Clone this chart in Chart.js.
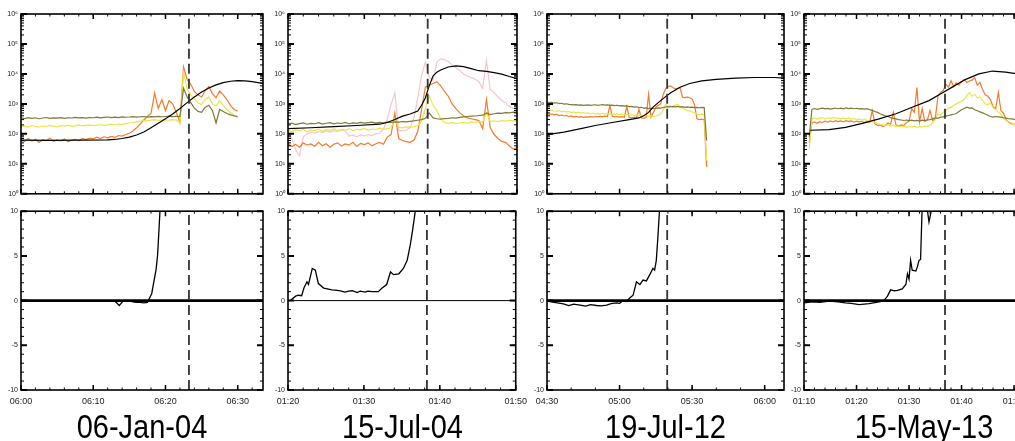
<!DOCTYPE html>
<html>
<head>
<meta charset="utf-8">
<script src="https://cdn.jsdelivr.net/npm/chart.js@4.4.0/dist/chart.umd.min.js"></script>
<style>
  body { margin: 0; width: 1015px; height: 441px; overflow: hidden; background: #fff; position: relative;
         font-family: "Liberation Sans", Helvetica, Arial, sans-serif; }
  canvas { position: absolute; }
  .date { position: absolute; top: 415px; width: 220px; text-align: center; font-size: 29px; line-height: 29px;
          color: #000; transform: scaleY(1.15); transform-origin: 50% 100%; white-space: nowrap; }
</style>
</head>
<body>
<script>
// ---- data (times in minutes from the start of each panel) ----
const dates = ['06-Jan-04', '15-Jul-04', '19-Jul-12', '15-May-13'];
const startMinutes = [360, 80, 270, 70];       // 06:00, 01:20, 04:30, 01:10
const flareTimes = [23.25, 18.3, 49.7, 26.85];   // dashed line

// 06-Jan-04 (0.5 min cadence from 06:00)
const jan04Orange = [62,55,70,58,66,52,64,60,72,56, 63,58,68,54,62,66,59,70,64,72, 68,78,70,80,74,82,76,88,84,95,
  105,125,160,210,290,380,480,2300,700,1400, 600,1300,1000,520,240,17000,6500,4500,2600,2000,
  1700,2800,3800,2200,1600,2700,2000,1400,900,650, 580];
const jan04Yellow = [175,185,168,190,178,170,186,175,192,180, 172,188,182,194,178,186,198,184,192,200,
  188,196,205,192,200,210,198,215,205,220, 230,240,250,265,275,270,285,300,280,290,
  295,285,300,290,230,11000,3200,2000,1500,1100, 950,1400,1700,1000,850,1300,900,650,520,420, 340];
const jan04Olive = [340,325,350,330,345,320,338,352,330,342, 335,350,328,345,338,355,340,348,335,352,
  345,360,342,355,365,350,362,348,370,358, 365,375,360,372,380,365,378,370,385,372,
  380,390,375,385,380,3300,1700,1100,720,560, 520,780,900,600,230,650,560,480,430,400, 380];
const jan04BlackT = [0,4,8,12,13,14,15,16,17,18,19,20,21,22,23,24,25,26,27,28,29,30,31,32,33,34];
const jan04BlackV = [62,61,62,63,65,70,78,92,115,160,225,320,460,700,1100,1700,2500,3400,4300,5100,5700,6000,5900,5500,5000,4600];
const jan04LowT = [12,13,13.6,14.2,15,15.5,16,16.5,17,17.5,17.8,18.1,18.3,18.5,18.7,18.9,19.0,19.25,19.6];
const jan04LowV = [0,-0.05,-0.55,0,0,-0.15,-0.2,-0.2,-0.25,-0.2,0.3,0.8,1.7,2.6,3.5,5,6.4,10.2,15];

// 15-Jul-04 (0.5 min cadence from 01:20)
const jul04Orange = [48,38,44,36,50,42,46,38,52,40, 47,36,45,50,39,46,42,52,38,48, 44,50,40,47,52,45,78,95,500,70,
  60,55,52,62,120,650,3700,4200,4800,5500, 4000,2600,1800,1000,700,500,400,340,320,300,
  280,150,1400,160,95,70,56,52,40,31, 34];
const jul04Yellow = [130,120,138,125,142,118,135,128,145,122, 138,130,148,126,140,134,150,128,142,136,
  152,132,145,140,155,142,150,160,300,165, 158,170,165,175,190,260,700,1850,900,600,
  320,240,225,238,220,235,242,228,250,240, 255,248,500,262,270,258,275,268,285,272, 280];
const jul04Olive = [215,228,205,220,232,210,225,218,235,212, 226,238,215,230,222,240,218,232,225,242,
  228,236,245,230,240,232,248,240,250,245, 258,250,262,270,285,300,330,500,340,320,
  310,325,330,345,335,355,370,380,390,395, 410,420,500,440,470,490,480,510,500,530, 520];
const jul04Pink = [110,70,30,18,80,100,115,105,120,110, 125,115,128,120,135,125,85,90,80,92,
  85,95,88,100,105,140,300,940,2300,130, 125,135,160,340,1600,9000,25000,8000,6000,25000,
  32000,30000,26000,20000,16000,13000,10000,8500,7500,6800, 5500,3300,28000,3000,2400,1700,1300,1100,800,700, 650];
const jul04BlackT = [0,3,6,9,12,13,14,15,16,17,17.5,18,18.5,19,19.5,20,21,22,23,24,25,26,27,28,29,30];
const jul04BlackV = [150,160,175,190,210,240,300,390,460,580,900,1600,4000,8500,11500,13500,17000,18500,17500,15000,12800,12200,11000,9800,8200,7000];
const jul04LowT = [0.3,1.0,1.4,1.8,2.1,2.5,2.7,3.2,3.6,4.0, 4.7,5.8,6.5,6.9,7.5,8.0,8.5,9.1,9.5,10.2,
  10.5,11.1,11.9,12.4,13.0,13.5,13.9,14.6,15.2,15.7, 16.1,16.4,16.8,17.1];
const jul04LowV = [0,0.5,0.6,0.55,1.4,2.1,1.8,3.6,3.4,1.9, 1.4,1.2,1.15,1.1,0.95,1.05,1.1,0.9,1.05,0.95,
  1.05,1.0,1.0,1.4,1.8,3.2,2.9,3.0,3.6,4.5, 6.2,7.8,10.2,14];

// 19-Jul-12 (1 min cadence from 04:30)
const jul12Orange = [480,450,460,430,445,410,425,395,410,380, 395,370,385,360,375,355,370,360,375,365,
  380,370,385,375,390,380,880,385,370,380, 365,375,360,820,355,345,360,340,650,345,
  330,350,2100,360,520,780,900,1000,2000,3100, 3800,4000,3500,3200,3300,3500,1700,1600,1700,1600,
  1450,950,320,300,310,295,8];
const jul12Yellow = [640,600,620,580,560,590,545,570,530,555, 515,540,500,525,490,510,480,500,470,495,
  465,485,460,480,455,475,450,470,445,465, 440,460,430,450,420,440,410,430,400,420,
  390,410,380,400,375,395,420,470,620,950, 820,880,780,920,960,850,720,650,600,580,
  540,500,450,440,455,445,13];
const jul12Olive = [1150,1100,1120,1060,1090,1030,1050,990,1010,960, 950,930,945,915,930,900,915,930,895,920,
  935,900,920,940,905,925,890,915,880,900, 860,875,840,855,810,825,780,800,750,770,
  720,740,700,725,690,715,740,720,760,780, 810,790,830,800,820,780,805,770,790,765,
  780,750,770,745,765,750,60];
const jul12BlackT = [0,7,14,20,27,34,38,40,42,44,46,48,51,55,59,64,70,78,86,94,98];
const jul12BlackV = [95,115,150,190,240,300,340,400,520,800,1100,1500,2300,3600,4800,5900,6600,7200,7600,7600,7300];
const jul12LowT = [0,3,6.8,9,11,13.7,16,18,20.5,22.5, 24.7,26.5,28.8,30,31.5,33,34.2,35.6,37,38.4,
  39.7,41.1,42.5,43.8,44.5,45.2,45.9,46.6,47.2];
const jul12LowV = [-0.05,-0.2,-0.37,-0.55,-0.4,-0.5,-0.62,-0.45,-0.55,-0.6, -0.5,-0.35,-0.25,-0.3,0,-0.1,0.3,0.6,2.1,1.8,
  2.3,2.2,2.9,3.6,3.4,4.5,7.3,10.5,15];

// 15-May-13 (0.5 min cadence from 01:11)
const may13Orange = [50,230,250,225,255,240,265,245,270,250, 275,255,270,250,275,260,270,245,265,250,
  260,240,255,245,600,220,190,200,175,190, 230,210,520,200,185,200,190,240,260,700,
  520,3500,250,700,260,300,600,280,320,1800, 2400,2800,4500,3600,5900,3800,5000,4200,5500,6500,
  5200,5800,6200,7600,4200,5200,3000,2000,1800,1400, 800,700,2400,600,480,300,240,220,210,205, 200];
const may13Yellow = [30,320,340,310,335,350,320,345,330,355, 325,340,315,335,320,340,310,325,300,315,
  290,305,280,270,255,240,225,210,200,190, 205,180,195,175,185,170,180,165,178,168,
  182,165,175,170,185,178,200,230,300,470, 420,520,600,700,780,900,1000,1100,1250,1400,
  1900,2400,1800,2100,1600,1700,1300,1000,950,1050, 750,650,520,450,330,280,250,230,200,195, 190];
const may13Olive = [80,650,700,660,690,720,680,710,670,700, 730,690,720,680,740,700,725,690,715,680,
  700,670,690,640,610,560,520,470,430,400, 380,350,330,315,300,290,280,290,275,285,
  270,280,265,285,275,290,300,320,340,330, 360,370,390,410,430,450,480,560,640,700,
  780,720,740,640,590,540,500,460,420,380, 360,380,370,360,345,335,320,315,305,300, 295];
const may13BlackT = [1.2,4.8,7.9,11.1,14.3,17.5,20.6,23.8,26.3,28.3,30.8,33.3,35.9,38.4,40,42,46];
const may13BlackV = [132,138,165,225,318,470,775,1290,2300,3700,6600,10000,12500,11500,10500,9500,8000];
const may13LowT = [0,1.6,3,4.8,6.5,7.9,9,10.5,12.4,14.3, 15.2,15.9,16.5,17.2,17.8,18.7,19.4,19.7,20,20.3,
  20.6,21.3,21.6,21.9,22.2,22.5,22.9,23.4,23.8,24.4, 24.8];
const may13LowV = [-0.25,-0.15,-0.2,-0.07,-0.15,-0.25,-0.3,-0.45,-0.35,-0.15, 0,0.5,1.2,1.1,1.15,1.3,1.8,3.0,2.4,4.5,
  3.4,3.3,3.8,4.5,4.6,10.5,13,10.5,8.8,10.5, 13];

// ---- styling ----
const ORANGE = '#f47a2c', YELLOW = '#e8e64a', OLIVE = '#7e7a38', PINK = '#f8c4cd';
const SUP = ['\u2070', '\u00b9', '\u00b2', '\u00b3', '\u2074', '\u2075', '\u2076'];
Chart.defaults.font.family = '"Liberation Sans", Helvetica, Arial, sans-serif';
Chart.defaults.color = '#222';

const grid = (start, step, vals) => vals.map((v, i) => ({ x: start + step * i, y: v }));
const pairs = (ts, vs) => ts.map((t, i) => ({ x: t, y: vs[i] }));
const pad = n => String(n).padStart(2, '0');
const hhmm = m => pad(Math.floor(m / 60)) + ':' + pad(Math.round(m % 60));

const panels = [
  { box: [21, 263], span: 33.5, labelStep: 10, minorStep: 2, zeroW: 2.8,
    top: [[grid(0, 0.5, jan04Olive), OLIVE], [grid(0, 0.5, jan04Yellow), YELLOW], [grid(0, 0.5, jan04Orange), ORANGE]],
    black: pairs(jan04BlackT, jan04BlackV), low: pairs(jan04LowT, jan04LowV) },
  { box: [288, 517], span: 30, labelStep: 10, minorStep: 2, zeroW: 1,
    top: [[grid(0, 0.5, jul04Olive), OLIVE], [grid(0, 0.5, jul04Yellow), YELLOW], [grid(0, 0.5, jul04Orange), ORANGE], [grid(0, 0.5, jul04Pink), PINK]],
    black: pairs(jul04BlackT, jul04BlackV), low: pairs(jul04LowT, jul04LowV) },
  { box: [547, 784], span: 98, labelStep: 30, minorStep: 10, zeroW: 2.8,
    top: [[grid(0, 1, jul12Olive), OLIVE], [grid(0, 1, jul12Yellow), YELLOW], [grid(0, 1, jul12Orange), ORANGE]],
    black: pairs(jul12BlackT, jul12BlackV), low: pairs(jul12LowT, jul12LowV) },
  { box: [804, 1044], span: 45.7, labelStep: 10, minorStep: 2, zeroW: 2.8,
    top: [[grid(1, 0.5, may13Olive), OLIVE], [grid(1, 0.5, may13Yellow), YELLOW], [grid(1, 0.5, may13Orange), ORANGE]],
    black: pairs(may13BlackT, may13BlackV), low: pairs(may13LowT, may13LowV) }
];

// box with inward tick marks on all four sides (IDL style)
const frame = {
  id: 'frame',
  afterDatasetsDraw(chart, args, o) {
    const { ctx, chartArea: a } = chart;
    const x = chart.scales.x, y = chart.scales.y;
    ctx.save();
    ctx.strokeStyle = '#000';
    const xt = (list, len, lw) => {
      ctx.lineWidth = lw; ctx.beginPath();
      list.forEach(v => {
        const p = x.getPixelForValue(v);
        ctx.moveTo(p, a.bottom); ctx.lineTo(p, a.bottom - len);
        ctx.moveTo(p, a.top); ctx.lineTo(p, a.top + len);
      });
      ctx.stroke();
    };
    const yt = (list, len, lw) => {
      ctx.lineWidth = lw; ctx.beginPath();
      list.forEach(v => {
        const p = y.getPixelForValue(v);
        ctx.moveTo(a.left, p); ctx.lineTo(a.left + len, p);
        ctx.moveTo(a.right, p); ctx.lineTo(a.right - len, p);
      });
      ctx.stroke();
    };
    xt(o.xMinor, 2.5, 1); xt(o.xMajor, 5, 1.5);
    yt(o.yMinor, 3, 1); yt(o.yMajor, 6, 2);
    ctx.lineWidth = 1.6;
    ctx.strokeRect(a.left, a.top, a.right - a.left, a.bottom - a.top);
    ctx.restore();
  }
};

const LM = 24, RM = 16;
const decades = [1, 10, 100, 1e3, 1e4, 1e5, 1e6];
const logMinor = [];
for (let d = 0; d < 6; d++) for (let k = 2; k <= 9; k++) logMinor.push(k * Math.pow(10, d));
const linMajor = [-10, -5, 0, 5, 10];
const linMinor = [];
for (let v = -10; v <= 10; v++) linMinor.push(v);

function makeCanvas(left, top, w, h) {
  const c = document.createElement('canvas');
  c.width = w; c.height = h;
  c.style.left = left + 'px'; c.style.top = top + 'px';
  c.style.width = w + 'px'; c.style.height = h + 'px';
  document.body.appendChild(c);
  return c;
}

const line = (data, color, width, dash) => ({
  data, borderColor: color, borderWidth: width, borderDash: dash || [], pointRadius: 0, tension: 0, fill: false
});

panels.forEach((p, i) => {
  const w = p.box[1] - p.box[0] + LM + RM;
  const xMajor = [], xMinor = [];
  for (let v = 0; v <= p.span + 1e-6; v += p.labelStep) xMajor.push(v);
  for (let v = 0; v <= p.span + 1e-6; v += p.minorStep) xMinor.push(v);
  const fl = flareTimes[i];

  // upper panel: log scale intensities
  new Chart(makeCanvas(p.box[0] - LM, 0, w, 201), {
    type: 'line',
    data: { datasets: [
      line([{ x: fl, y: 1 }, { x: fl, y: 1e6 }], '#333', 1.8, [10, 5]),
      line(p.black, '#000', 1.2),
      ...p.top.map(s => line(s[0], s[1], 1.2))
    ] },
    options: {
      responsive: false, animation: false,
      layout: { padding: { left: 0, right: RM, top: 14, bottom: 4 } },
      plugins: { legend: { display: false }, tooltip: { enabled: false },
                 frame: { xMajor, xMinor, yMajor: decades, yMinor: logMinor } },
      scales: {
        x: { type: 'linear', min: 0, max: p.span, display: false },
        y: { type: 'logarithmic', min: 1, max: 1e6,
             grid: { display: false, drawTicks: false }, border: { display: false },
             afterFit: s => { s.width = LM; },
             afterBuildTicks: s => { s.ticks = decades.map(v => ({ value: v })); },
             ticks: { font: { size: 7 }, padding: 3, callback: v => '10' + SUP[Math.round(Math.log10(v))] } }
      }
    },
    plugins: [frame]
  });

  // lower panel: linear
  new Chart(makeCanvas(p.box[0] - LM, 204, w, 237), {
    type: 'line',
    data: { datasets: [
      line([{ x: fl, y: -10 }, { x: fl, y: 10 }], '#333', 1.8, [10, 5]),
      line(p.low, '#000', 1.3),
      line([{ x: 0, y: 0 }, { x: p.span, y: 0 }], '#000', p.zeroW)
    ] },
    options: {
      responsive: false, animation: false,
      layout: { padding: { left: 0, right: RM, top: 4, bottom: 37 } },
      plugins: { legend: { display: false }, tooltip: { enabled: false },
                 frame: { xMajor, xMinor, yMajor: linMajor, yMinor: linMinor } },
      scales: {
        x: { type: 'linear', min: 0, max: p.span,
             grid: { display: false, drawTicks: false }, border: { display: false },
             afterFit: s => { s.height = 14; },
             afterBuildTicks: s => { s.ticks = xMajor.map(v => ({ value: v })); },
             ticks: { autoSkip: false, maxRotation: 0, padding: 6, font: { size: 9 },
                      callback: v => hhmm(startMinutes[i] + v) } },
        y: { type: 'linear', min: -10, max: 10,
             grid: { display: false, drawTicks: false }, border: { display: false },
             afterFit: s => { s.width = LM; },
             afterBuildTicks: s => { s.ticks = linMajor.map(v => ({ value: v })); },
             ticks: { font: { size: 7 }, padding: 3 } }
      }
    },
    plugins: [frame]
  });

  const d = document.createElement('div');
  d.className = 'date';
  d.textContent = dates[i];
  d.style.left = ((p.box[0] + p.box[1]) / 2 - 110) + 'px';
  document.body.appendChild(d);
});
</script>
</body>
</html>
